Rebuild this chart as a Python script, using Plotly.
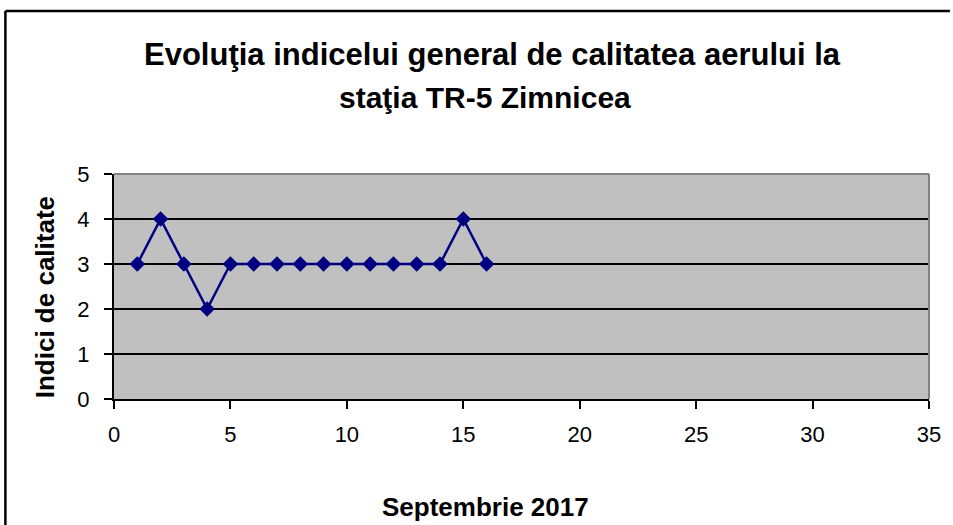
import plotly.graph_objects as go

days = list(range(1, 17))
index_values = [3, 4, 3, 2, 3, 3, 3, 3, 3, 3, 3, 3, 3, 3, 4, 3]
title_line1 = "Evoluţia indicelui general de calitatea aerului la"
title_line2 = "staţia TR-5 Zimnicea"
y_title = "Indici de calitate"
x_title = "Septembrie 2017"

W, H = 953, 525
L, R, T, B = 114, 21, 174, 126
pw, ph = W - L - R, H - T - B

def px(x):
    return (x - L) / pw

def py(y):
    return (H - B - y) / ph

fig = go.Figure()
fig.add_trace(go.Scatter(
    x=days, y=index_values, mode="lines+markers",
    line=dict(color="#000080", width=2.5),
    marker=dict(symbol="diamond", size=12, color="#000080"),
    showlegend=False,
))

font_family = "Liberation Sans, Arial, sans-serif"
fig.update_layout(
    width=W, height=H,
    margin=dict(l=L, r=R, t=T, b=B),
    paper_bgcolor="white", plot_bgcolor="#C0C0C0",
    font=dict(family=font_family, color="black", size=22),
    xaxis=dict(range=[0, 35], dtick=5, tick0=0, showgrid=False, zeroline=False,
               showline=True, linecolor="black", linewidth=2,
               ticks="outside", ticklen=8, tickwidth=2, tickcolor="black",
               tickfont=dict(size=22), ticklabelstandoff=7),
    yaxis=dict(range=[0, 5], dtick=1, tick0=0, showgrid=True, gridcolor="black", gridwidth=2,
               zeroline=False, showline=True, linecolor="black", linewidth=2,
               ticks="outside", ticklen=8, tickwidth=2, tickcolor="black",
               tickfont=dict(size=22), ticklabelstandoff=10),
)

# grey top/right plot border
fig.add_shape(type="line", xref="paper", yref="paper", x0=0, x1=1, y0=1, y1=1,
              line=dict(color="#808080", width=2))
fig.add_shape(type="line", xref="paper", yref="paper", x0=1, x1=1, y0=0, y1=1,
              line=dict(color="#808080", width=2))
# chart outer border (top and left edges visible in the frame)
fig.add_shape(type="line", xref="paper", yref="paper",
              x0=px(5), x1=px(953), y0=py(11), y1=py(11),
              line=dict(color="black", width=2.5))
fig.add_shape(type="line", xref="paper", yref="paper",
              x0=px(5), x1=px(5), y0=py(11), y1=py(525),
              line=dict(color="black", width=2.5))

common = dict(xref="paper", yref="paper", showarrow=False, xanchor="center", yanchor="middle")
fig.add_annotation(text="<b>" + title_line1 + "</b>", x=px(494), y=py(55),
                   font=dict(size=31), **common)
fig.add_annotation(text="<b>" + title_line2 + "</b>", x=px(486), y=py(97),
                   font=dict(size=30), **common)
fig.add_annotation(text="<b>" + y_title + "</b>", x=px(45), y=py(297), textangle=-90,
                   font=dict(size=26), **common)
fig.add_annotation(text="<b>" + x_title + "</b>", x=px(487), y=py(507),
                   font=dict(size=26), **common)

fig.write_html("out.html", config={"displayModeBar": False},
               post_script="document.body.style.margin='0';")
